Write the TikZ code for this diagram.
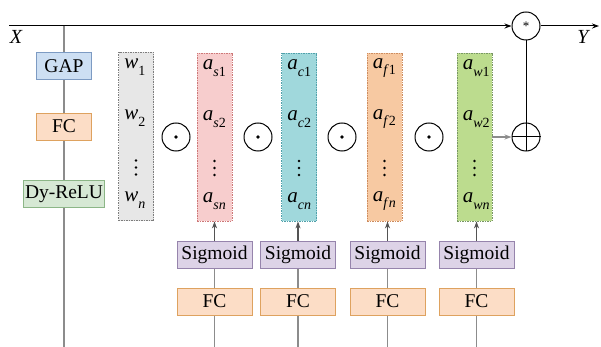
\documentclass[tikz,border=0pt]{standalone}
\usepackage{fontspec}
\setmainfont{Liberation Serif}
\usetikzlibrary{arrows.meta,calc}
\definecolor{gapfill}{RGB}{205,223,243}
\definecolor{gapdraw}{RGB}{125,155,195}
\definecolor{fcfill}{RGB}{252,221,198}
\definecolor{fcdraw}{RGB}{222,162,95}
\definecolor{dyfill}{RGB}{214,232,212}
\definecolor{dydraw}{RGB}{140,182,135}
\definecolor{sgfill}{RGB}{221,211,231}
\definecolor{sgdraw}{RGB}{150,132,172}
\definecolor{wfill}{RGB}{231,231,231}
\definecolor{wdraw}{RGB}{125,125,125}
\definecolor{sfill}{RGB}{247,205,205}
\definecolor{sdraw}{RGB}{205,120,120}
\definecolor{cfill}{RGB}{160,216,220}
\definecolor{cdraw}{RGB}{80,160,170}
\definecolor{ffill}{RGB}{247,201,162}
\definecolor{fdraw}{RGB}{205,140,95}
\definecolor{gfill}{RGB}{188,220,142}
\definecolor{gdraw}{RGB}{120,150,100}
\definecolor{linegray}{RGB}{140,140,140}
\newcommand{\lbl}[3]{\textit{#1}\raisebox{-0.7ex}{\fontsize{14}{14}\selectfont #2#3}}
\begin{document}
\begin{tikzpicture}[x=1pt,y=-1pt,
  box/.style={draw, line width=0.8pt, minimum height=27pt, inner sep=0pt, font=\fontsize{19.5}{19.5}\selectfont},
  gapbox/.style={box, fill=gapfill, draw=gapdraw, minimum width=55pt},
  fcbox/.style={box, fill=fcfill, draw=fcdraw},
  dybox/.style={box, fill=dyfill, draw=dydraw, minimum width=81pt},
  sgbox/.style={box, fill=sgfill, draw=sgdraw, minimum width=75pt},
  col/.style={draw, line width=0.8pt, dash pattern=on 1.5pt off 1pt, minimum width=35pt, minimum height=168pt, inner sep=0pt},
  entry/.style={anchor=west, inner sep=0pt, font=\fontsize{21}{21}\selectfont},
  op/.style={circle, draw, line width=1pt, minimum size=28pt, inner sep=0pt},
  arr/.style={-{Stealth[length=7pt,width=5pt]}},
  gline/.style={draw=linegray, line width=1.2pt},
  lbl/.style={font=\fontsize{20}{20}\selectfont\itshape, inner sep=0pt}
]
\useasboundingbox (0,0) rectangle (601,347);
% top path
\coordinate (xin) at (9,26);
\node[op] (star) at (526,26) {\raisebox{-0.3ex}{\fontsize{13}{13}\selectfont *}};
\coordinate (yout) at (599,26);
\draw[line width=1pt, arr] (xin) -- (star.west);
\draw[line width=1pt, arr] (star.east) -- (yout);
\node[lbl] (X) at (16,37) {X};
\node[lbl] (Y) at (583,37) {Y};
% left branch
\coordinate (ltop) at (64,26);
\coordinate (lbot) at (64,347);
\draw[gline] (ltop) -- (lbot);
\node[gapbox] (gap) at (64,66) {GAP};
\node[fcbox, minimum width=55pt] (fc0) at (64,126.5) {FC};
\node[dybox] (dy) at (64,194) {Dy-ReLU};
% columns
\node[col, fill=wfill, draw=wdraw] (cw) at (136,136.5) {};
\node[col, fill=sfill, draw=sdraw] (cs) at (214.5,137) {};
\node[col, fill=cfill, draw=cdraw] (cc) at (299,137) {};
\node[col, fill=ffill, draw=fdraw] (cf) at (384.5,137) {};
\node[col, fill=gfill, draw=gdraw] (cg) at (474.5,137) {};
% entries
\foreach \c/\x/\s in {cw/w/,cs/a/s,cc/a/c,cf/a/f,cg/a/w}{
  \node[entry] (\c1) at ($(\c.west)+(6,-69)$) {\lbl{\x}{\textit{\s}}{1}};
  \node[entry] (\c2) at ($(\c.west)+(6,-18)$) {\lbl{\x}{\textit{\s}}{2}};
  \foreach \dy in {24,31,38}{\fill ($(\c.center)+(0,\dy)$) circle (1.3pt);}
  \node[entry] (\c n) at ($(\c.west)+(6,64)$) {\lbl{\x}{\textit{\s}}{\textit{n}}};
}
% odots
\foreach \i/\x in {1/176,2/258,3/342,4/429}{
  \node[op] (od\i) at (\x,137) {};
  \fill (od\i.center) circle (1.8pt);
}
% plus
\node[op] (plus) at (526,137) {};
\draw[line width=1pt] (plus.west) -- (plus.east);
\draw[line width=1pt] (star.south) -- (plus.south);
\draw[draw=linegray, line width=1.2pt, arr] (cg.east |- plus) -- (plus.west);
% bottom branches
\foreach \i/\x/\c in {1/214.5/cs,2/298/cc,3/387.5/cf,4/476.5/cg}{
  \coordinate (b\i) at (\x,347);
  \draw[gline] (b\i) -- (\x,268);
  \node[sgbox] (sg\i) at (\x,254.5) {Sigmoid};
  \node[fcbox, minimum width=75pt] (fc\i) at (\x,301.5) {FC};
  \draw[gline, arr, draw=linegray!60!black] (sg\i.north) -- (sg\i.north |- \c.south);
}
\end{tikzpicture}
\end{document}
